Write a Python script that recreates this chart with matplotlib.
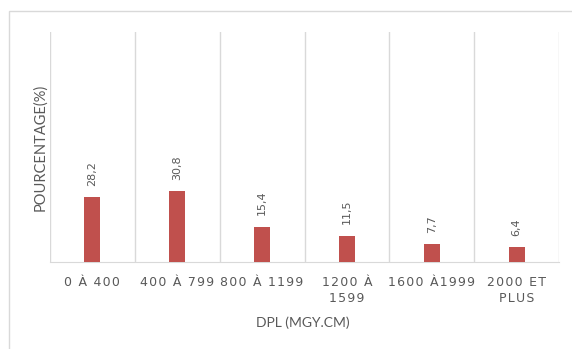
import matplotlib.pyplot as plt
from matplotlib.patches import Rectangle

# data
categories = ['0 À 400', '400 À 799', '800 À 1199', '1200 À\n1599', '1600 À1999', '2000 ET\nPLUS']
values = [28.2, 30.8, 15.4, 11.5, 7.7, 6.4]
labels = ['28,2', '30,8', '15,4', '11,5', '7,7', '6,4']

bar_color = '#C0504D'
grid_color = '#D9D9D9'
text_color = '#595959'


def spaced(s):
    # excel-style letter spacing, hair space between characters
    return '\n'.join('\u200a'.join(line) for line in s.split('\n'))


fig = plt.figure(figsize=(5.72, 3.49), dpi=100)
ax = fig.add_axes([50/572, 1 - 262/349, 509/572, 230/349])

x = range(len(categories))
ax.bar(x, values, width=0.19, color=bar_color, zorder=3)

for i, v in enumerate(values):
    ax.annotate(labels[i], (i, v), xytext=(0, 8), textcoords='offset points',
                rotation=90, ha='center', va='bottom', fontsize=8, color=text_color)

ax.set_xlim(-0.5, len(categories) - 0.5)
ax.set_ylim(0, 100)

# vertical separators between categories
for k in range(len(categories) + 1):
    ax.axvline(k - 0.5, color=grid_color, linewidth=1, zorder=1)

ax.set_xticks(list(x))
ax.set_xticklabels([spaced(c) for c in categories], fontsize=9, color=text_color, linespacing=1.3)
ax.tick_params(axis='x', length=0, pad=10)
ax.set_yticks([])

for s in ['top', 'right', 'left']:
    ax.spines[s].set_visible(False)
ax.spines['bottom'].set_color(grid_color)

fig.text(40/572, 1 - 147/349, 'POURCENTAGE(%)', rotation=90, ha='center', va='center',
         fontsize=10.5, color=text_color, family='Lato')
fig.text(303/572, 1 - 323/349, 'DPL (MGY.CM)', ha='center', va='center',
         fontsize=10, color=text_color, family='Lato')

# outer chart border
fig.patches.append(Rectangle((9/572, -0.05), 1.05, 1 - 11/349 + 0.05, transform=fig.transFigure,
                             fill=False, edgecolor=grid_color, linewidth=1))

fig.savefig('out.png', dpi=100)
